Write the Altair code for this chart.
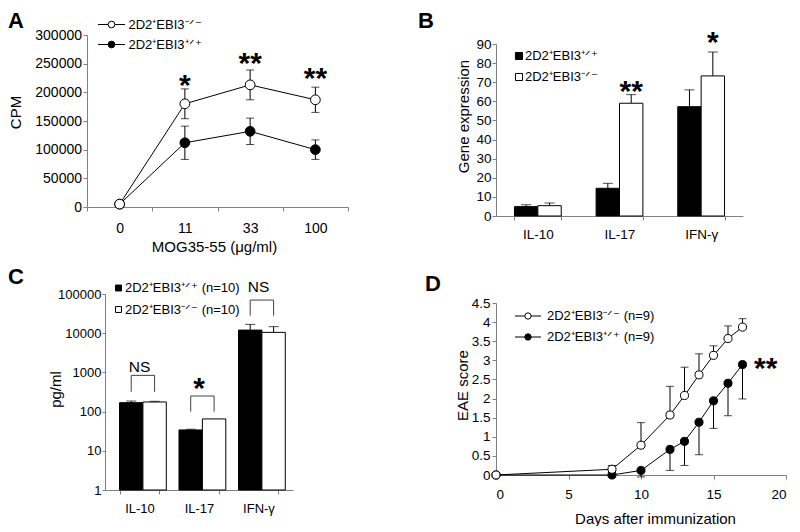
import altair as alt
import pandas as pd

FONT = "Liberation Sans"
GRAY = "#808080"
KO = "2D2⁺EBI3⁻ᐟ⁻"
WT = "2D2⁺EBI3⁺ᐟ⁺"

# ---------------- Panel A data ----------------
a_dose = ["0", "11", "33", "100"]
a_ko_mean = [5000, 180000, 213000, 187000]
a_ko_err = [0, 26000, 26000, 22000]
a_wt_mean = [5000, 112000, 132000, 100000]
a_wt_err = [0, 29000, 23000, 17000]
a_star_dose = ["11", "33", "100"]
a_star_y = [218000, 256000, 231000]
a_star_txt = ["*", "**", "**"]

# ---------------- Panel B data ----------------
genes = ["IL-10", "IL-17", "IFN-γ"]
groups = ["wt", "ko"]
b_wt_mean = [4.9, 14.5, 57.2]
b_wt_err = [1.0, 2.6, 8.8]
b_ko_mean = [5.4, 59.0, 73.3]
b_ko_err = [1.4, 4.5, 12.5]
b_star_gene = ["IL-17", "IFN-γ"]
b_star_y = [67.0, 92.4]
b_star_txt = ["**", "*"]

# ---------------- Panel C data ----------------
c_wt_mean = [169, 34, 12000]
c_wt_err = [17, 1.5, 4800]
c_ko_mean = [176, 65, 10500]
c_ko_err = [7, 0, 4200]
c_br_top = [840, 250, 70000]
c_br_leg = [320, 100, 28000]
c_sig_txt = ["NS", "*", "NS"]
c_sig_y = [1400, 476, 154000]

# ---------------- Panel D data ----------------
d_days = [0, 8, 10, 12, 13, 14, 15, 16, 17]
d_ko_mean = [0, 0.15, 0.78, 1.57, 2.08, 2.62, 3.13, 3.57, 3.87]
d_ko_err = [0, 0.10, 0.59, 0.75, 0.74, 0.55, 0.25, 0.33, 0.22]
d_wt_mean = [0, 0, 0.12, 0.67, 0.88, 1.38, 1.94, 2.40, 2.89]
d_wt_err = [0, 0, 0.17, 0.55, 0.63, 0.85, 0.72, 0.85, 0.90]
d_star_x = [18.6]
d_star_y = [2.89]
d_star_txt = ["**"]

one = pd.DataFrame({"k": [0]})
STAR_DY = 4


def px_text(txt, x, y, size=13, align="left", baseline="middle", **kw):
    return alt.Chart(one).mark_text(text=txt, align=align, baseline=baseline, font=FONT,
                                    fontSize=size, color="black", **kw).encode(
        x=alt.value(x), y=alt.value(y))


def px_rule(x1, x2, y, opacity=1):
    return alt.Chart(one).mark_rule(color="black", strokeWidth=1, opacity=opacity).encode(
        x=alt.value(x1), x2=alt.value(x2), y=alt.value(y))


def px_circle(x, y, filled, size):
    return alt.Chart(one).mark_circle(size=size, opacity=1, color="black" if filled else "white",
                                      stroke="black", strokeWidth=1).encode(
        x=alt.value(x), y=alt.value(y))


def px_square(x, y, filled, size):
    return alt.Chart(one).mark_point(shape="square", size=size, opacity=1, filled=True,
                                     color="black" if filled else "white",
                                     stroke="black", strokeWidth=1).encode(
        x=alt.value(x), y=alt.value(y))


# ================= Panel A =================
xA = alt.X("dose:N", scale=alt.Scale(type="band", domain=a_dose, paddingInner=0, paddingOuter=0),
           axis=alt.Axis(title="MOG35-55 (μg/ml)", labelAngle=0, tickBand="extent", labelFontSize=14,
                         tickSize=4, labelPadding=10, titleX=127, titleY=32))
yA_scale = alt.Scale(domain=[0, 300000])
yA_axis = alt.Axis(title="CPM", values=list(range(0, 300001, 50000)), format="d", labelFontSize=14,
                   tickSize=4, labelPadding=1.5, titleX=-64, titleY=77)


def a_series(means, errs, filled):
    df = pd.DataFrame({"dose": a_dose, "m": means, "e": errs})
    df["lo"] = df["m"] - df["e"]
    df["hi"] = df["m"] + df["e"]
    base = alt.Chart(df)
    eb = alt.Chart(df[df["e"] > 0])
    line = base.mark_line(color="black", strokeWidth=1).encode(x=xA, y=alt.Y("m:Q", scale=yA_scale, axis=yA_axis))
    rule = eb.mark_rule(color="black", strokeWidth=1).encode(
        x=xA, y=alt.Y("lo:Q", scale=yA_scale, axis=yA_axis), y2="hi:Q")
    cap1 = eb.mark_tick(orient="horizontal", size=8, thickness=1, color="black").encode(
        x=xA, y=alt.Y("lo:Q", scale=yA_scale, axis=yA_axis))
    cap2 = eb.mark_tick(orient="horizontal", size=8, thickness=1, color="black").encode(
        x=xA, y=alt.Y("hi:Q", scale=yA_scale, axis=yA_axis))
    pts = base.mark_circle(size=95, opacity=1, color="black" if filled else "white",
                           stroke="black", strokeWidth=1).encode(
        x=xA, y=alt.Y("m:Q", scale=yA_scale, axis=yA_axis))
    return [rule, cap1, cap2, line, pts]


a_stars = alt.Chart(pd.DataFrame({"dose": a_star_dose, "y": a_star_y, "t": a_star_txt})).mark_text(
    font=FONT, fontSize=30, fontWeight="bold", baseline="middle", dy=STAR_DY, color="black").encode(
    x=xA, y=alt.Y("y:Q", scale=yA_scale, axis=yA_axis), text="t:N")

A = alt.layer(
    *a_series(a_wt_mean, a_wt_err, True),
    *a_series(a_ko_mean, a_ko_err, False),
    a_stars,
    px_rule(11, 38, -10.5), px_circle(24.5, -10.5, False, 45), px_text(KO, 41.5, -10.5),
    px_rule(11, 38, 9.5), px_circle(24.5, 9.5, True, 45), px_text(WT, 41.5, 9.5),
    px_rule(-60, -59, -27, opacity=0),
    px_text("A", -79, -24.5, size=22, baseline="top", fontWeight="bold"),
).properties(width=261, height=172)

# ================= Panel B =================
xB = alt.X("gene:N", scale=alt.Scale(domain=genes, paddingInner=0.427, paddingOuter=0.226),
           axis=alt.Axis(title=None, labelAngle=0, tickBand="extent", labelFontSize=13.5,
                         tickSize=4, labelPadding=7))
oB = alt.XOffset("grp:N", scale=alt.Scale(domain=groups))
yB_scale = alt.Scale(domain=[0, 90], range=[181, 9])
yB_axis = alt.Axis(title="Gene expression", values=list(range(0, 91, 10)), labelFontSize=13.5,
                   tickSize=4, labelPadding=1, titleX=-25, titleY=81)

b_df = pd.DataFrame({
    "gene": genes + genes,
    "grp": ["wt"] * 3 + ["ko"] * 3,
    "m": b_wt_mean + b_ko_mean,
    "e": b_wt_err + b_ko_err,
})
b_df["hi"] = b_df["m"] + b_df["e"]
colB = alt.Color("grp:N", scale=alt.Scale(domain=groups, range=["black", "white"]), legend=None)

b_bars = alt.Chart(b_df).mark_bar(stroke="black", strokeWidth=1, opacity=1).encode(
    x=xB, xOffset=oB, y=alt.Y("m:Q", scale=yB_scale, axis=yB_axis), fill=colB)
b_rule = alt.Chart(b_df).mark_rule(color="black", strokeWidth=1).encode(
    x=xB, xOffset=oB, y=alt.Y("m:Q", scale=yB_scale, axis=yB_axis), y2="hi:Q")
b_cap = alt.Chart(b_df).mark_tick(orient="horizontal", size=10, thickness=1, color="black").encode(
    x=xB, xOffset=oB, y=alt.Y("hi:Q", scale=yB_scale, axis=yB_axis))
b_stars = alt.Chart(pd.DataFrame({"gene": b_star_gene, "grp": ["ko", "ko"], "y": b_star_y,
                                  "t": b_star_txt})).mark_text(
    font=FONT, fontSize=30, fontWeight="bold", baseline="middle", dy=STAR_DY, color="black").encode(
    x=xB, xOffset=oB, y=alt.Y("y:Q", scale=yB_scale, axis=yB_axis), text="t:N")

B = alt.layer(
    b_rule, b_cap, b_bars, b_stars,
    px_square(23, 21, True, 50), px_text(WT, 29, 21),
    px_square(23, 42, False, 50), px_text(KO, 29, 42),
    px_text("B", -78, -24.5, size=22, baseline="top", fontWeight="bold"),
).properties(width=247, height=181)

# ================= Panel C =================
xC = alt.X("gene:N", scale=alt.Scale(domain=genes, range=[18, 206], paddingInner=0.328, paddingOuter=0.244),
           axis=alt.Axis(title=None, labelAngle=0, tickBand="extent", labelFontSize=13,
                         tickSize=4, labelPadding=8))
oC = alt.XOffset("grp:N", scale=alt.Scale(domain=groups))
yC_scale = alt.Scale(type="log", domain=[1, 100000])
yC_axis = alt.Axis(title="pg/ml", values=[1, 10, 100, 1000, 10000, 100000], format="d", labelFontSize=13,
                   tickSize=3, labelPadding=1, offset=-18, titleX=-42, titleY=95)

c_df = pd.DataFrame({
    "gene": genes + genes,
    "grp": ["wt"] * 3 + ["ko"] * 3,
    "m": c_wt_mean + c_ko_mean,
    "e": c_wt_err + c_ko_err,
})
c_df["hi"] = c_df["m"] + c_df["e"]
c_err = c_df[c_df["e"] > 0]
colC = alt.Color("grp:N", scale=alt.Scale(domain=groups, range=["black", "white"]), legend=None)

c_bars = alt.Chart(c_df).mark_bar(stroke="black", strokeWidth=1, opacity=1).encode(
    x=xC, xOffset=oC, y=alt.Y("m:Q", scale=yC_scale, axis=yC_axis), y2=alt.datum(1), fill=colC)
c_rule = alt.Chart(c_err).mark_rule(color="black", strokeWidth=1).encode(
    x=xC, xOffset=oC, y=alt.Y("m:Q", scale=yC_scale, axis=yC_axis), y2="hi:Q")
c_cap = alt.Chart(c_err).mark_tick(orient="horizontal", size=10, thickness=1, color="black").encode(
    x=xC, xOffset=oC, y=alt.Y("hi:Q", scale=yC_scale, axis=yC_axis))

br_rows = []
for g, top, leg in zip(genes, c_br_top, c_br_leg):
    br_rows += [(g, "wt", leg, 0), (g, "wt", top, 1), (g, "ko", top, 2), (g, "ko", leg, 3)]
c_br = pd.DataFrame(br_rows, columns=["gene", "grp", "v", "o"])
c_brackets = alt.Chart(c_br).mark_line(color="#404040", strokeWidth=1).encode(
    x=xC, xOffset=oC, y=alt.Y("v:Q", scale=yC_scale, axis=yC_axis), detail="gene:N", order="o:Q")

c_sig = pd.DataFrame({"gene": genes, "y": c_sig_y, "t": c_sig_txt})
c_ns = alt.Chart(c_sig[c_sig["t"] == "NS"]).mark_text(
    font=FONT, fontSize=15.5, baseline="middle", color="black").encode(
    x=xC, y=alt.Y("y:Q", scale=yC_scale, axis=yC_axis), text="t:N")
c_star = alt.Chart(c_sig[c_sig["t"] != "NS"]).mark_text(
    font=FONT, fontSize=30, fontWeight="bold", baseline="middle", dy=STAR_DY, color="black").encode(
    x=xC, y=alt.Y("y:Q", scale=yC_scale, axis=yC_axis), text="t:N")

C = alt.layer(
    c_bars, c_rule, c_cap, c_brackets, c_ns, c_star,
    px_square(31.5, -6, True, 35), px_text(WT + " (n=10)", 38, -6),
    px_square(31.5, 15.5, False, 35), px_text(KO + " (n=10)", 38, 15.5),
    px_text("C", -79, -27, size=22, baseline="top", fontWeight="bold"),
).properties(width=206, height=196)

# ================= Panel D =================
xD = alt.X("day:Q", scale=alt.Scale(domain=[0, 20], nice=False),
           axis=alt.Axis(title="Days after immunization", values=[0, 5, 10, 15, 20], labelFontSize=13.5,
                         tickSize=4, labelPadding=8, titleX=159, titleY=36))
yD_scale = alt.Scale(domain=[0, 4.5], range=[181, 9], nice=False)
yD_axis = alt.Axis(title="EAE score", values=[i * 0.5 for i in range(10)], format=".1~f", labelFontSize=13.5,
                   tickSize=4, labelPadding=2, titleX=-26, titleY=91)


def d_series(means, errs, filled, up):
    df = pd.DataFrame({"day": d_days, "m": means, "e": errs})
    df["end"] = df["m"] + df["e"] if up else df["m"] - df["e"]
    eb = alt.Chart(df[df["e"] > 0])
    base = alt.Chart(df)
    line = base.mark_line(color="black", strokeWidth=1).encode(x=xD, y=alt.Y("m:Q", scale=yD_scale, axis=yD_axis))
    rule = eb.mark_rule(color="black", strokeWidth=1).encode(
        x=xD, y=alt.Y("m:Q", scale=yD_scale, axis=yD_axis), y2="end:Q")
    cap = eb.mark_tick(orient="horizontal", size=8, thickness=1, color="black").encode(
        x=xD, y=alt.Y("end:Q", scale=yD_scale, axis=yD_axis))
    pts = base.mark_circle(size=65, opacity=1, color="black" if filled else "white",
                           stroke="black", strokeWidth=1).encode(
        x=xD, y=alt.Y("m:Q", scale=yD_scale, axis=yD_axis))
    return [rule, cap, line, pts]


d_stars = alt.Chart(pd.DataFrame({"day": d_star_x, "y": d_star_y, "t": d_star_txt})).mark_text(
    font=FONT, fontSize=30, fontWeight="bold", baseline="middle", dy=STAR_DY, color="black").encode(
    x=xD, y=alt.Y("y:Q", scale=yD_scale, axis=yD_axis), text="t:N")

D = alt.layer(
    *d_series(d_wt_mean, d_wt_err, True, False),
    *d_series(d_ko_mean, d_ko_err, False, True),
    d_stars,
    px_rule(19, 45, 22), px_circle(32, 22, False, 40), px_text(KO + " (n=9)", 51, 22),
    px_rule(19, 45, 43), px_circle(32, 43, True, 40), px_text(WT + " (n=9)", 51, 43),
    px_text("D", -71, -20, size=22, baseline="top", fontWeight="bold"),
).properties(width=290, height=181)

chart = alt.concat(
    A, B, C, D, columns=2, spacing={"row": 78, "column": 148}, bounds="flush", padding=0
).configure_view(stroke=None).configure_axis(
    grid=False, domainColor=GRAY, tickColor=GRAY, labelFont=FONT, titleFont=FONT,
    labelColor="black", titleColor="black", titleFontWeight="normal", titleFontSize=15,
)

chart.save("out.html", embed_options={"renderer": "svg", "actions": False})
